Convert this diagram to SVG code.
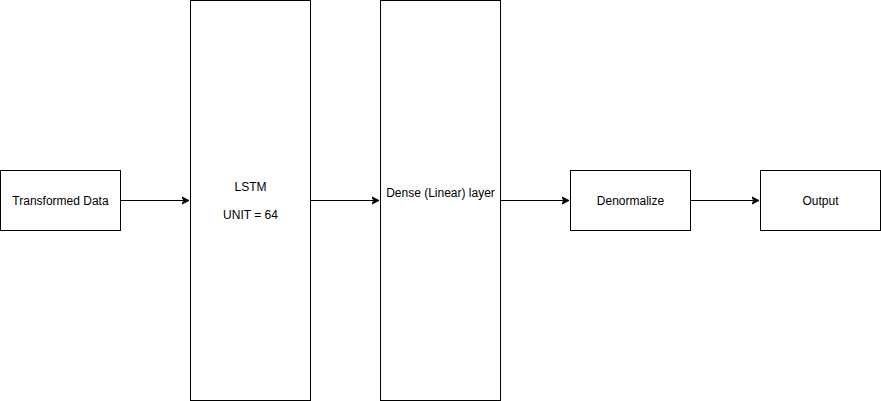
<svg xmlns="http://www.w3.org/2000/svg" width="881" height="401" viewBox="0 0 881 401">
<style>
.box{fill:#ffffff;stroke:#000000;stroke-width:1}
.lbl{font-family:"Liberation Sans",Arial,sans-serif;font-size:12px;fill:#000000;text-anchor:middle}
.edge{fill:none;stroke:#000000;stroke-width:1}
</style>
<defs>
<marker id="arr" markerWidth="10" markerHeight="10" refX="7" refY="3.5" orient="auto" markerUnits="userSpaceOnUse" viewBox="0 0 10 7">
<path d="M0,0 L7,3.5 L0,7 L1.75,3.5 Z" fill="#000000" stroke="#000000" stroke-width="1"/>
</marker>
</defs>
<rect width="881" height="401" fill="#ffffff"/>
<g id="connectors">
<path class="edge" d="M120.5,200.5 L189,200.5" marker-end="url(#arr)"/>
<path class="edge" d="M310.5,200.5 L379,200.5" marker-end="url(#arr)"/>
<path class="edge" d="M500.5,200.5 L569,200.5" marker-end="url(#arr)"/>
<path class="edge" d="M690.5,200.5 L759,200.5" marker-end="url(#arr)"/>
</g>
<g id="transformed">
<rect class="box" x="0.5" y="170.5" width="120" height="60"/>
<text class="lbl" x="60.5" y="204.5">Transformed Data</text>
</g>
<g id="lstm">
<rect class="box" x="190.5" y="0.5" width="120" height="400"/>
<text class="lbl" x="250.5" y="190.5">LSTM</text>
<text class="lbl" x="250.5" y="218.5">UNIT = 64</text>
</g>
<g id="dense">
<rect class="box" x="380.5" y="0.5" width="120" height="400"/>
<text class="lbl" x="440.5" y="196.5">Dense (Linear) layer</text>
</g>
<g id="denormalize">
<rect class="box" x="570.5" y="170.5" width="120" height="60"/>
<text class="lbl" x="630.5" y="204.5">Denormalize</text>
</g>
<g id="output">
<rect class="box" x="760.5" y="170.5" width="120" height="60"/>
<text class="lbl" x="820.5" y="204.5">Output</text>
</g>
</svg>
